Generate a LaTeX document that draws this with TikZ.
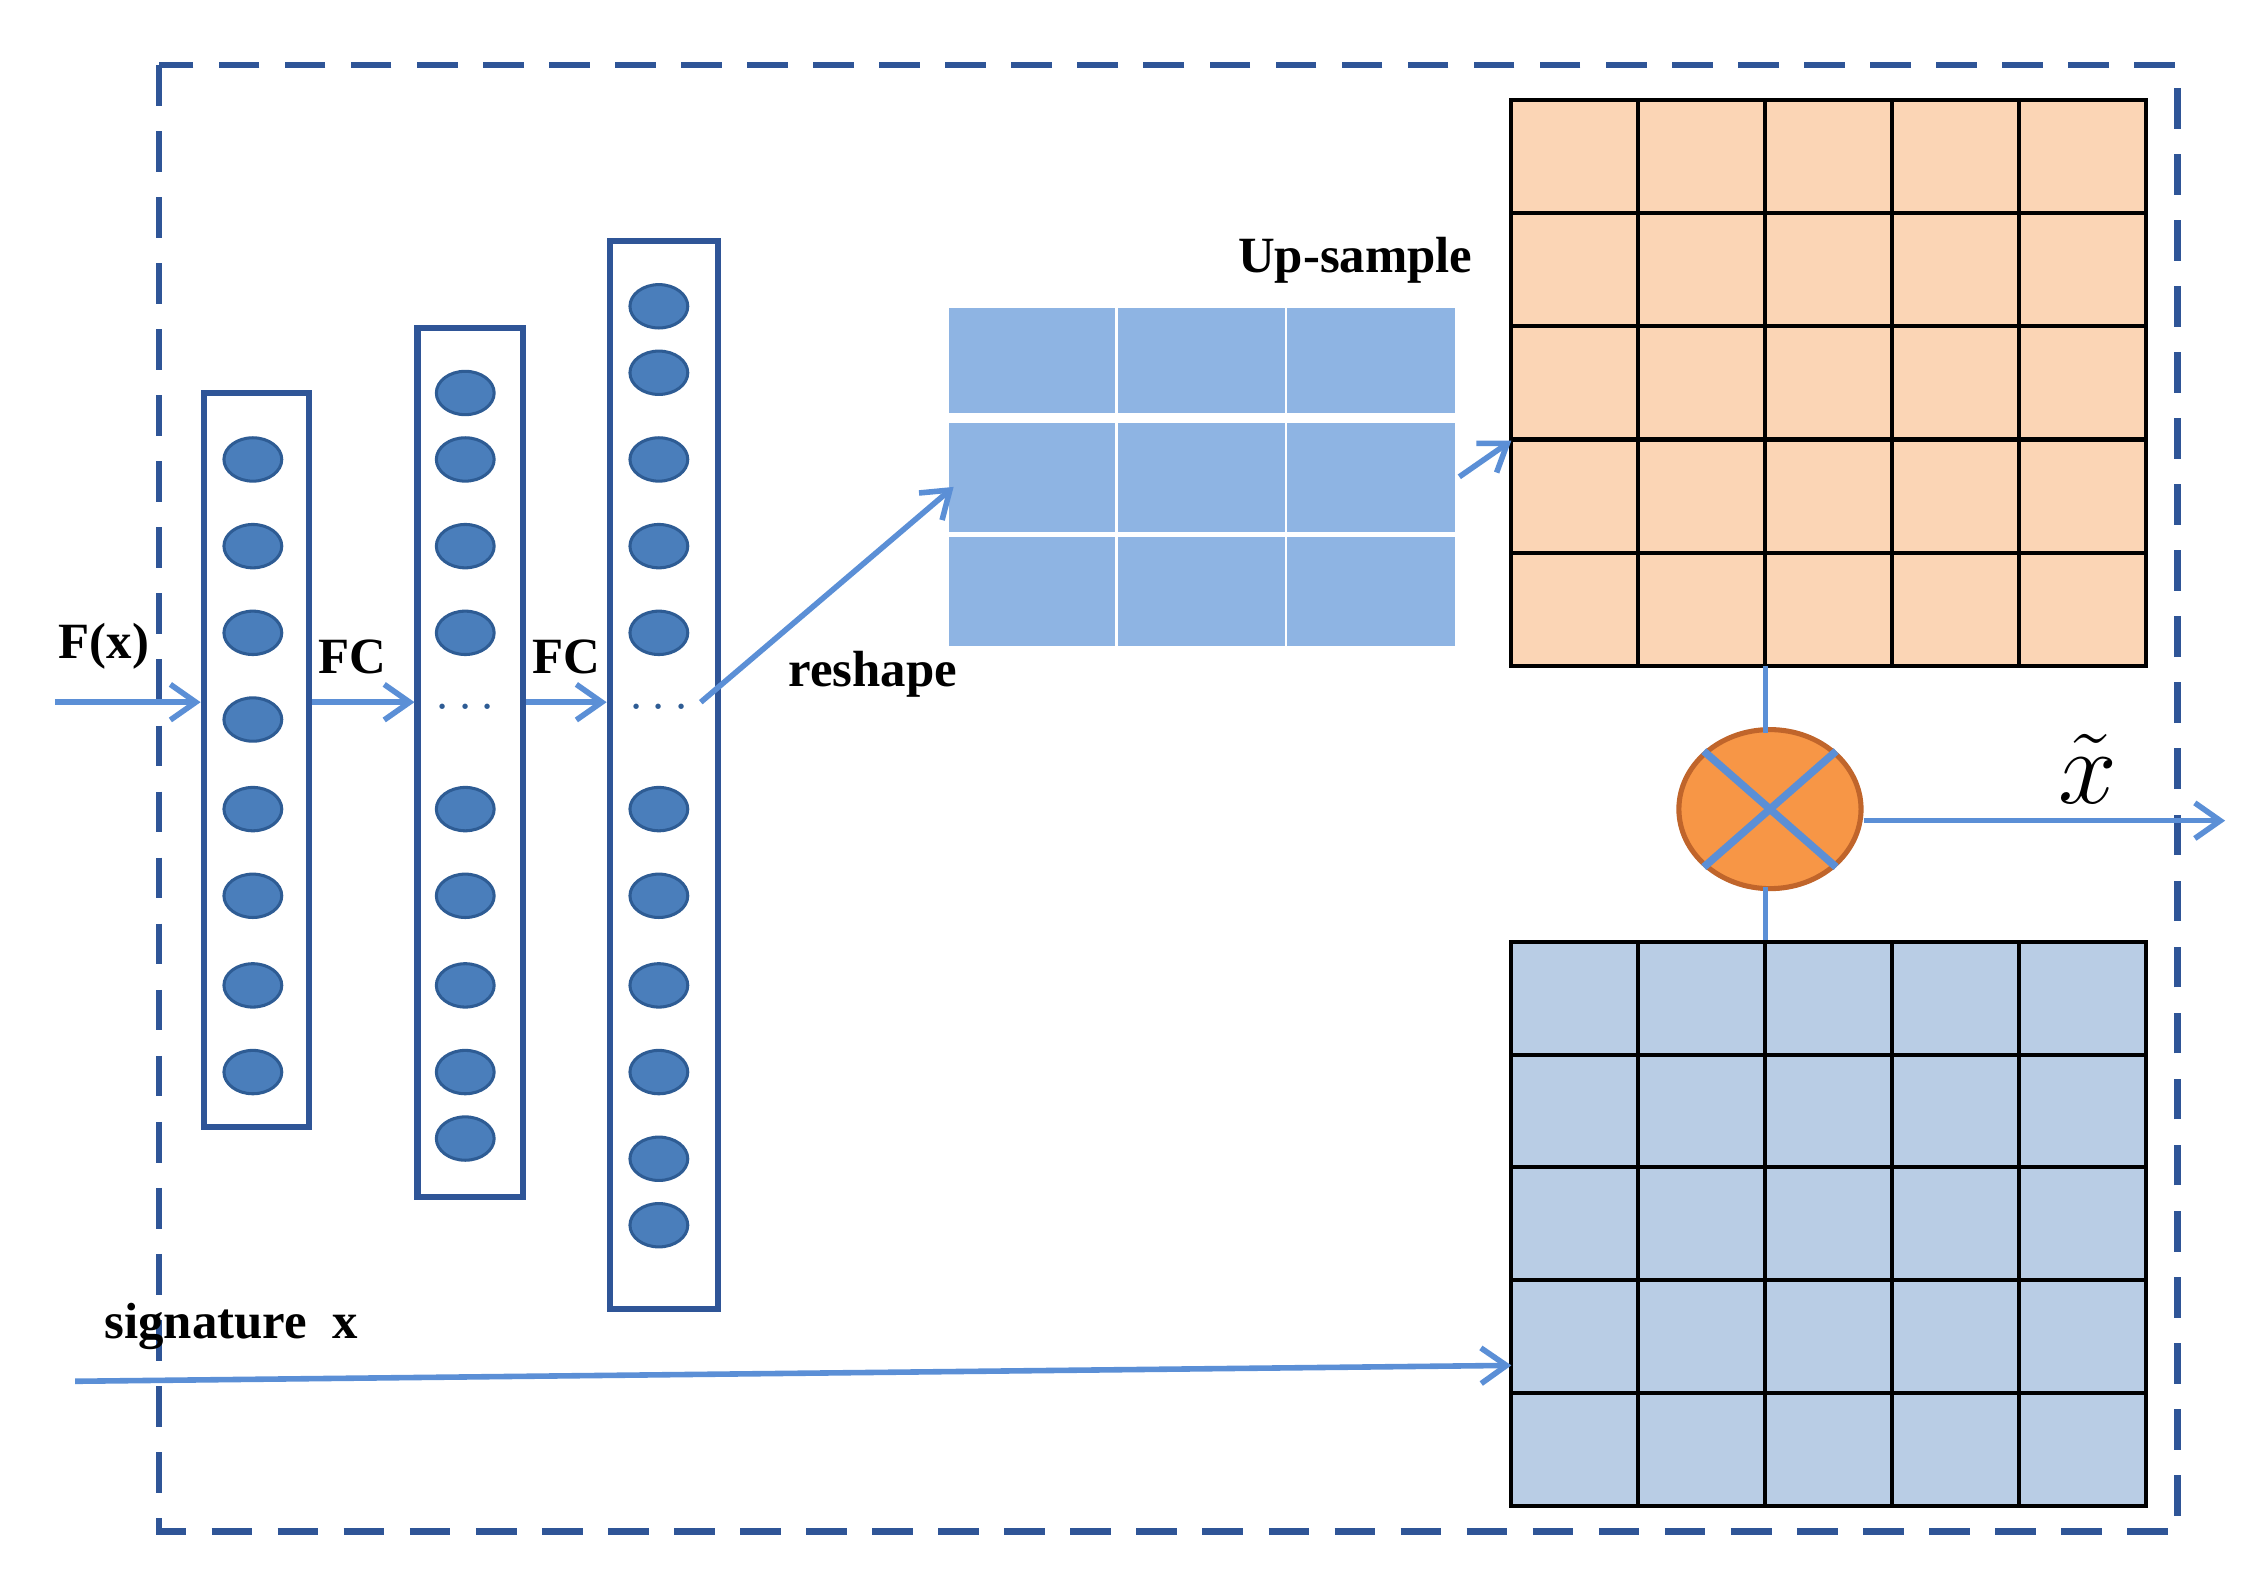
\documentclass[tikz,border=0pt]{standalone}
\usepackage{fontspec}
\setmainfont{Liberation Serif}
\usetikzlibrary{arrows.meta,shapes.geometric}
\definecolor{frame}{HTML}{2F5597}
\definecolor{neu}{HTML}{4A7EBB}
\definecolor{neuD}{HTML}{2E5C94}
\definecolor{arr}{HTML}{5B8FD6}
\definecolor{gridA}{HTML}{8EB4E3}
\definecolor{gridO}{HTML}{FBD5B5}
\definecolor{gridB}{HTML}{B9CDE5}
\definecolor{mulF}{HTML}{F79646}
\definecolor{mulD}{HTML}{C0652B}
\begin{document}
\begin{tikzpicture}[x=0.01cm,y=-0.01cm,
  lbl/.style={font=\fontsize{10}{12}\selectfont\bfseries, inner sep=0},
  col/.style={draw=frame, line width=1.2pt, inner sep=0},
  neuron/.style={ellipse, draw=neuD, fill=neu, minimum width=0.4cm, minimum height=0.3cm, inner sep=0, line width=0.6pt},
  ar/.style={draw=arr, line width=1.1pt, -{Straight Barb[length=5pt,width=7pt]}},
  ln/.style={draw=arr, line width=1.1pt}]
\useasboundingbox (0,0) rectangle (1560,1092);
\draw[frame, line width=1.3pt, dash pattern=on 8pt off 5pt] (110,45) rectangle (1507,1060);
% columns
\node[col, minimum width=0.73cm, minimum height=5.08cm] (c1) at (177.5,526) {};
\node[col, minimum width=0.73cm, minimum height=6.01cm] (c2) at (325.5,527.5) {};
\node[col, minimum width=0.75cm, minimum height=7.39cm] (c3) at (459.5,536.5) {};
\foreach \y [count=\i] in {318,378,438,498,560,620,682,742} \node[neuron] (a\i) at (175,\y) {};
\foreach \y [count=\i] in {272,318,378,438,560,620,682,742,788} \node[neuron] (b\i) at (322,\y) {};
\foreach \y [count=\i] in {212,258,318,378,438,560,620,682,742,802,848} \node[neuron] (d\i) at (456,\y) {};
\node[font=\fontsize{10}{12}\selectfont, text=neuD] (dots2) at (322,490) {$\cdots$};
\node[font=\fontsize{10}{12}\selectfont, text=neuD] (dots3) at (456,490) {$\cdots$};
% input arrows
\coordinate (in) at (38,486);
\draw[ar] (in) -- (c1.west |- in);
\node[lbl] (fx) at (72,447) {F(x)};
\draw[ar] (c1.east |- in) -- (c2.west |- in);
\node[lbl] (fc1) at (244,455) {FC};
\draw[ar] (c2.east |- in) -- (c3.west |- in);
\node[lbl] (fc2) at (392,455) {FC};
% reshape grid
\foreach \x/\w in {657/115,774/115,891/116}
  \foreach \y/\h in {213/73,293/75,372/75}
    \fill[gridA] (\x,\y) rectangle ++(\w,\h);
\coordinate (r0) at (485,486);
\coordinate (r1) at (660,337);
\draw[ar] (r0) -- (r1);
\node[lbl] (rs) at (604,467) {reshape};
\node[lbl] (up) at (938,180) {Up-sample};
% orange grid
\fill[gridO] (1046,69) rectangle (1485,461);
\foreach \i in {1,...,4} {
  \draw[black, line width=0.8pt] ({1046+\i*87.8},69) -- ({1046+\i*87.8},461);
  \draw[black, line width=0.8pt] (1046,{69+\i*78.4}) -- (1485,{69+\i*78.4});
}
\draw[black, line width=0.8pt] (1046,69) rectangle (1485,461);
\coordinate (u0) at (1010,330);
\coordinate (u1) at (1046,305);
\draw[ar] (u0) -- (u1);
% multiply
\node[ellipse, draw=mulD, fill=mulF, minimum width=1.26cm, minimum height=1.1cm, line width=1pt, inner sep=0] (mul) at (1225,560) {};
\draw[ln, line width=1.5pt] (mul.north west) -- (mul.south east);
\draw[ln, line width=1.5pt] (mul.north east) -- (mul.south west);
\draw[ln] (1222,461) -- (1222,507);
\draw[ln] (1222,614) -- (1222,652);
% blue grid
\fill[gridB] (1046,652) rectangle (1485,1042);
\foreach \i in {1,...,4} {
  \draw[black, line width=0.8pt] ({1046+\i*87.8},652) -- ({1046+\i*87.8},1042);
  \draw[black, line width=0.8pt] (1046,{652+\i*78}) -- (1485,{652+\i*78});
}
\draw[black, line width=0.8pt] (1046,652) rectangle (1485,1042);
% output
\coordinate (out) at (1540,568);
\draw[ar] (mul.east |- out) -- (out);
\node[font=\fontsize{20}{22}\selectfont, inner sep=0] (xt) at (1445,532) {$\tilde{x}$};
% signature
\node[lbl] (sig) at (160,918) {signature\ \ x};
\coordinate (s0) at (52,956);
\coordinate (s1) at (1046,945);
\draw[ar] (s0) -- (s1);
\end{tikzpicture}
\end{document}
